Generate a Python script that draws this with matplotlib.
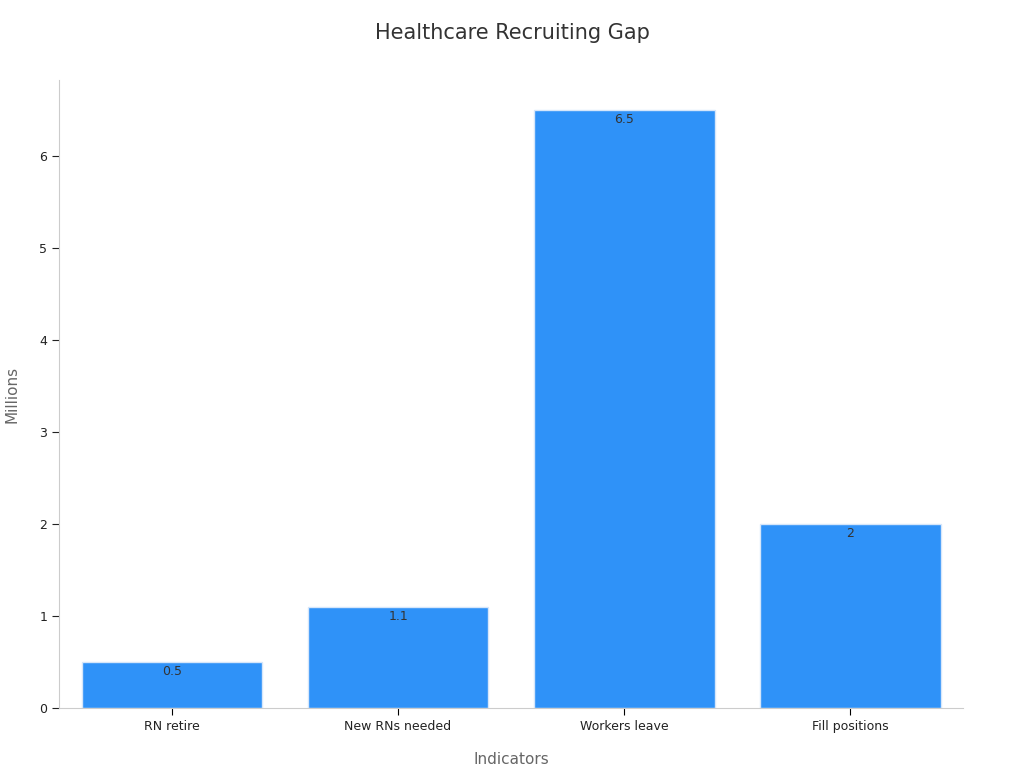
import matplotlib
matplotlib.use("Agg")
import matplotlib.pyplot as plt

categories = ["RN retire", "New RNs needed", "Workers leave", "Fill positions"]
values = [0.5, 1.1, 6.5, 2]
labels = ["0.5", "1.1", "6.5", "2"]

fig = plt.figure(figsize=(10.24, 7.68), dpi=100)
ax = fig.add_axes([0.0576, 0.078, 0.883, 0.818])
x = range(len(categories))
bars = ax.bar(x, values, width=0.8, color="#2F92F8", edgecolor="#D6E6FA", linewidth=1)
for b, lab in zip(bars, labels):
    ax.text(b.get_x() + b.get_width() / 2, b.get_height() - 0.03, lab,
            ha="center", va="top", fontsize=9, color="#333333")
ax.set_xlim(-0.5, 3.5)
ax.set_ylim(0, 6.83)
ax.set_xticks(list(x))
ax.set_xticklabels(categories, fontsize=9, color="#222222")
ax.set_yticks(range(0, 7))
ax.tick_params(axis="y", labelsize=9, colors="#222222", length=5)
ax.tick_params(axis="x", length=5)
for s in ["top", "right"]:
    ax.spines[s].set_visible(False)
for s in ["left", "bottom"]:
    ax.spines[s].set_color("#CCCCCC")
ax.set_xlabel("Indicators", fontsize=11, color="#666666", labelpad=14)
ax.set_ylabel("Millions", fontsize=11, color="#666666", labelpad=14)
fig.text(0.5, 0.957, "Healthcare Recruiting Gap", ha="center", va="center", fontsize=15, color="#333333")
fig.savefig("out.png", dpi=100)
